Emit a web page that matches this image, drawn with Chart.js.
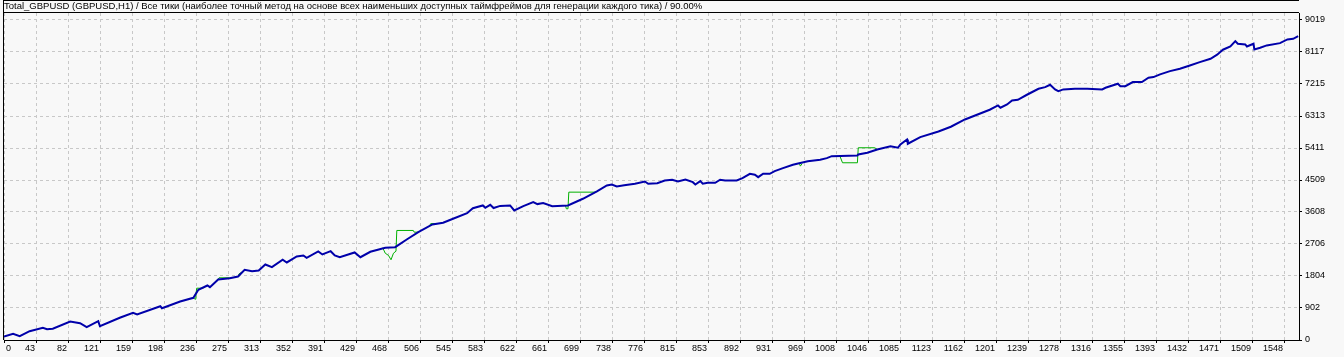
<!DOCTYPE html>
<html><head><meta charset="utf-8">
<script src="https://cdn.jsdelivr.net/npm/chart.js@4.4.1/dist/chart.umd.min.js"></script>
<style>html,body{margin:0;padding:0;background:#f8f8f8;overflow:hidden}#wrap{width:1344px;height:357px}</style>
</head><body><div id="wrap"><canvas id="c" width="1344" height="357"></canvas></div>
<script>
const titleText = "Total_GBPUSD (GBPUSD,H1) / Все тики (наиболее точный метод на основе всех наименьших доступных таймфреймов для генерации каждого тика) / 90.00%";
const xTickLabels = ["0","43","82","121","159","198","236","275","313","352","391","429","468","506","545","583","622","661","699","738","776","815","853","892","931","969","1008","1046","1085","1123","1162","1201","1239","1278","1316","1355","1393","1432","1471","1509","1548"];
const yTickLabels = ["0","902","1804","2706","3608","4509","5411","6313","7215","8117","9019"];

// Balance curve: trade number / balance value
const balanceTrades = [0,11,19,31,47,52,59,80,92,100,114,116,140,156,161,189,191,213,229,235,246,249,259,273,283,291,300,308,316,324,337,342,354,362,366,380,385,395,400,406,424,431,443,461,473,487,501,518,531,543,560,567,579,582,588,592,600,612,617,628,640,645,652,663,682,700,717,729,735,741,750,763,775,779,790,799,808,815,824,833,836,842,845,851,860,866,872,886,893,902,908,912,918,926,932,942,954,959,972,987,995,1001,1032,1033,1044,1056,1072,1081,1084,1092,1093,1108,1130,1145,1162,1192,1202,1205,1213,1219,1226,1237,1251,1259,1265,1271,1275,1281,1295,1310,1328,1332,1347,1350,1356,1365,1376,1384,1390,1398,1410,1422,1434,1446,1459,1467,1474,1483,1489,1492,1501,1503,1511,1512,1519,1527,1543,1552,1559,1565];
const balanceValues = [100,175,107,248,344,304,316,521,474,361,530,389,626,767,719,953,896,1085,1190,1415,1536,1490,1706,1742,1790,1979,1940,1960,2128,2052,2261,2185,2354,2382,2317,2495,2410,2503,2382,2334,2467,2334,2486,2599,2616,2833,3039,3256,3304,3417,3575,3715,3792,3726,3811,3720,3780,3792,3651,3772,3885,3830,3860,3772,3792,3980,4186,4355,4383,4327,4360,4403,4468,4403,4420,4496,4516,4468,4524,4448,4383,4477,4403,4431,4431,4516,4496,4496,4561,4685,4657,4589,4685,4685,4758,4843,4939,4967,5040,5080,5125,5181,5201,5229,5277,5370,5463,5418,5511,5652,5531,5717,5878,6010,6216,6489,6611,6546,6639,6752,6771,6912,7081,7127,7194,7062,7014,7062,7081,7081,7062,7109,7222,7155,7155,7268,7268,7391,7409,7485,7578,7645,7738,7831,7927,8040,8181,8274,8423,8350,8330,8274,8350,8189,8237,8302,8367,8471,8490,8564];

// Equity: only the stretches where it leaves the balance line (null = gap)
const equityTrades = [229,231,232,233,240,243,244, 259,260,273,274,275, 283,284,289,290, 458,461,465,468,471,474,475,495,496,501,502, 515,516,523,524, 679,680,682,683,715,717,718, 962,963,965,966, 1001,1002,1011,1014,1032,1033,1053,1056];
const equityValues = [1190,1150,1254,1460,1460,1490,null, 1706,1753,1753,1742,null, 1790,1860,1930,null, 2599,2447,2382,2261,2447,2503,3087,3087,3039,3039,null, 3230,3280,3280,null, 3792,3698,3698,4167,4167,4186,null, 4967,4900,4967,null, 5181,5173,5173,4995,4995,5418,5418,5370];

const X_MAX = 1566, X_STEP = 38.7, Y_MAX = 9216;
const FONT = "'Liberation Sans',Arial,sans-serif";

const xLabelPlugin = {
  id: 'xLabels',
  afterDraw(chart) {
    const xs = chart.scales.x, ctx = chart.ctx;
    ctx.save();
    ctx.font = "9px " + FONT;
    ctx.fillStyle = '#000';
    ctx.textBaseline = 'top';
    xs.ticks.forEach((t, i) => {
      const px = xs.getPixelForValue(t.value);
      if (i === 0) { ctx.textAlign = 'left'; ctx.fillText(xTickLabels[i], px + 2, chart.chartArea.bottom + 4); }
      else { ctx.textAlign = 'right'; ctx.fillText(xTickLabels[i], px - 1, chart.chartArea.bottom + 4); }
    });
    ctx.restore();
  }
};
const framePlugin = {
  id: 'frame',
  afterDraw(chart) {
    const a = chart.chartArea, ctx = chart.ctx;
    ctx.save();
    ctx.strokeStyle = '#000'; ctx.lineWidth = 1;
    ctx.beginPath();
    ctx.moveTo(a.left - 0.5, a.bottom); ctx.lineTo(a.left - 0.5, 0);
    ctx.moveTo(a.left - 1, 0.5); ctx.lineTo(a.right, 0.5);
    ctx.moveTo(a.left - 1, a.top - 0.5); ctx.lineTo(a.right, a.top - 0.5);
    ctx.stroke();
    ctx.restore();
  }
};

const gridCommon = { color: '#c8c8c8', lineWidth: 1, tickColor: '#000', tickLength: 3, drawTicks: true };
const borderCommon = { display: true, color: '#000', width: 1, dash: [3, 3] };

new Chart(document.getElementById('c'), {
  type: 'line',
  data: {
    datasets: [
      { label: 'Balance', data: balanceTrades.map((t, i) => ({ x: t, y: balanceValues[i] })),
        borderColor: '#0000aa', borderWidth: 2, pointRadius: 0, tension: 0, fill: false },
      { label: 'Equity', data: equityTrades.map((t, i) => ({ x: t, y: equityValues[i] })),
        borderColor: '#00b000', borderWidth: 1, pointRadius: 0, tension: 0, fill: false, spanGaps: false }
    ]
  },
  options: {
    responsive: false, animation: false, events: [],
    layout: { padding: { left: 4, top: 0, right: 0, bottom: 0 } },
    plugins: {
      legend: { display: false }, tooltip: { enabled: false },
      title: { display: true, text: titleText, align: 'start', color: '#000',
        font: { family: FONT, size: 9.5, weight: 'normal', lineHeight: 1.2 }, padding: { top: 1, bottom: 0.6 } }
    },
    scales: {
      x: { type: 'linear', min: 0, max: X_MAX,
        afterBuildTicks(s) { s.ticks = xTickLabels.map((l, i) => ({ value: i * X_STEP })); },
        afterFit(s) { s.height = 17; },
        ticks: { display: false },
        grid: gridCommon, border: borderCommon },
      y: { type: 'linear', position: 'right', min: 0, max: Y_MAX,
        afterBuildTicks(s) { s.ticks = yTickLabels.map(l => ({ value: Number(l) })); },
        afterFit(s) { s.width = 45; },
        ticks: { color: '#000', padding: 3, font: { family: FONT, size: 9 }, callback: (v, i) => yTickLabels[i] },
        grid: gridCommon, border: borderCommon }
    }
  },
  plugins: [xLabelPlugin, framePlugin]
});
</script></body></html>
